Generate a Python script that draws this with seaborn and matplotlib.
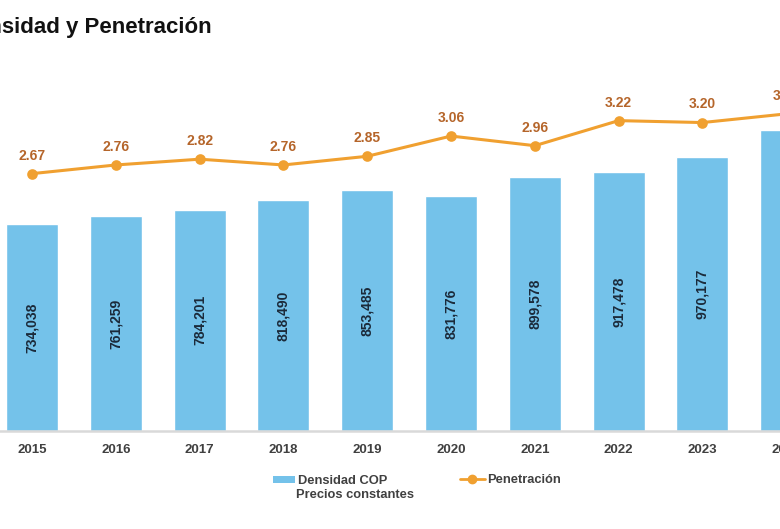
import matplotlib
matplotlib.use("Agg")
import matplotlib.pyplot as plt
import seaborn as sns
import pandas as pd
from matplotlib.patches import Patch
from matplotlib.lines import Line2D

years = ["2015", "2016", "2017", "2018", "2019", "2020", "2021", "2022", "2023", "2024"]
densidad = [734038, 761259, 784201, 818490, 853485, 831776, 899578, 917478, 970177, 1066000]
penetracion = [2.67, 2.76, 2.82, 2.76, 2.85, 3.06, 2.96, 3.22, 3.20, 3.29]

BAR = "#74C2EA"
LINE = "#F0A030"
PEN_TXT = "#B5652A"
TICK = "#404040"
BAR_TXT = "#1B2A3A"

sns.set_theme(style="white")
plt.rcParams["font.family"] = ["Liberation Sans", "DejaVu Sans"]

df = pd.DataFrame({"year": years, "densidad": densidad, "penetracion": penetracion})

fig = plt.figure(figsize=(7.8, 5.29), dpi=100)
# axes run past the right edge: the chart is cropped like the reference
ax = fig.add_axes([0, 98 / 529, 860 / 780, 371 / 529])

sns.barplot(data=df, x="year", y="densidad", order=years, color=BAR,
            saturation=1, width=0.62, ax=ax)
ax.set_ylim(0, 1314700)

for i, v in enumerate(densidad):
    ax.text(i, v / 2, f"{v:,}", rotation=90, ha="center", va="center",
            fontsize=10, fontweight="bold", color=BAR_TXT)

ax2 = ax.twinx()
sns.pointplot(data=df, x="year", y="penetracion", order=years, color=LINE,
              markers="o", linestyles="-", ax=ax2, markersize=6, linewidth=2.2)
ax2.set_ylim(0, 3.849)
for i, v in enumerate(penetracion):
    ax2.annotate(f"{v:.2f}", (i, v), xytext=(0, 8), textcoords="offset points",
                 ha="center", va="bottom", fontsize=10, fontweight="bold", color=PEN_TXT)

for a in (ax, ax2):
    a.set_xlim(-0.382, (860 - 32) / 83.8 - 0.382 + 0.382 - 32 / 83.8 + 32 / 83.8 - 0.0)
    a.set_ylabel("")
    a.set_xlabel("")
    a.set_yticks([])
    for s in ["top", "right", "left"]:
        a.spines[s].set_visible(False)
for a in (ax, ax2):
    a.set_xlim(-0.382, -0.382 + 860 / 83.8)
ax2.spines["bottom"].set_visible(False)
ax.spines["bottom"].set_color("#D9D9D9")
ax.spines["bottom"].set_linewidth(1.8)
ax.tick_params(axis="x", length=0, pad=9.5, labelsize=9.5, labelcolor=TICK)
for t in ax.get_xticklabels():
    t.set_fontweight("bold")

# Title (partly cut at the left edge, as in the reference)
fig.text(-40 / 780, 1 - 27 / 529, "Densidad y Penetración", ha="left", va="center",
         fontsize=16, fontweight="bold", color="#111111")

# Legend
leg1 = fig.legend(handles=[Patch(facecolor=BAR, edgecolor="none")], labels=["Densidad COP"],
                  loc="center left", bbox_to_anchor=(268 / 780, 1 - 481 / 529),
                  frameon=False, handlelength=1.7, handleheight=0.45, handletextpad=0.25,
                  prop={"size": 9.3, "weight": "bold"}, labelcolor=TICK, borderaxespad=0)
fig.text(296 / 780, 1 - 495 / 529, "Precios constantes", ha="left", va="center",
         fontsize=9.3, fontweight="bold", color=TICK)
leg2 = fig.legend(handles=[Line2D([0], [0], color=LINE, lw=2, marker="o", markersize=6)],
                  labels=["Penetración"], loc="center left",
                  bbox_to_anchor=(455 / 780, 1 - 480 / 529), frameon=False,
                  handlelength=1.9, handletextpad=0.2,
                  prop={"size": 9.3, "weight": "bold"}, labelcolor=TICK, borderaxespad=0)

fig.savefig("out.png", dpi=100)
